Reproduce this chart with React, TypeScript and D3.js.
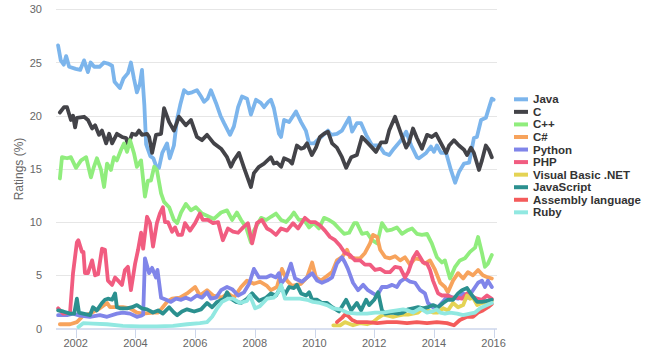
import React from "react";
import * as d3 from "d3";

type Pt = [number, number];

const javaData: Pt[] = [[2001.41,26.6],[2001.5,25.2],[2001.6,24.8],[2001.68,25.6],[2001.78,24.6],[2002.0,24.4],[2002.15,24.3],[2002.28,25.2],[2002.41,24.1],[2002.5,25.0],[2002.62,24.6],[2002.8,24.6],[2002.95,25.0],[2003.08,24.9],[2003.22,24.7],[2003.3,23.2],[2003.48,22.6],[2003.6,23.5],[2003.75,24.0],[2003.85,25.0],[2003.95,23.5],[2004.05,22.2],[2004.15,23.0],[2004.22,24.3],[2004.3,21.0],[2004.36,17.3],[2004.5,16.2],[2004.6,16.0],[2004.69,15.3],[2004.79,15.1],[2004.9,16.5],[2005.06,17.4],[2005.15,16.0],[2005.29,17.2],[2005.39,19.6],[2005.5,21.0],[2005.63,22.4],[2005.76,22.1],[2005.9,22.2],[2006.06,22.4],[2006.2,21.8],[2006.3,21.3],[2006.42,21.6],[2006.53,22.4],[2006.7,21.2],[2006.85,20.0],[2006.97,19.3],[2007.17,18.2],[2007.3,19.0],[2007.44,20.8],[2007.57,21.8],[2007.74,21.6],[2007.87,20.1],[2008.04,21.5],[2008.2,21.2],[2008.31,20.8],[2008.45,21.3],[2008.54,21.5],[2008.64,20.7],[2008.81,18.3],[2008.88,18.0],[2008.98,19.6],[2009.15,19.4],[2009.38,20.4],[2009.55,19.4],[2009.71,18.6],[2009.82,17.4],[2009.98,17.4],[2010.22,18.0],[2010.45,18.6],[2010.55,18.2],[2010.75,18.3],[2010.92,18.6],[2011.16,19.8],[2011.26,18.5],[2011.42,19.3],[2011.56,19.3],[2011.73,18.2],[2011.93,17.2],[2012.16,17.2],[2012.33,16.5],[2012.5,16.3],[2012.66,16.9],[2012.9,17.7],[2013.07,18.5],[2013.24,17.2],[2013.43,16.1],[2013.5,16.0],[2013.74,16.5],[2013.9,17.1],[2014.0,16.6],[2014.1,17.2],[2014.24,16.5],[2014.41,16.5],[2014.57,14.9],[2014.71,13.7],[2014.84,14.7],[2015.01,15.5],[2015.18,15.6],[2015.34,17.9],[2015.44,18.0],[2015.58,19.6],[2015.74,19.8],[2015.94,21.6],[2016.0,21.5]];

const cData: Pt[] = [[2001.47,20.3],[2001.61,20.8],[2001.71,20.8],[2001.84,19.6],[2001.91,20.0],[2001.98,18.9],[2002.04,19.8],[2002.28,19.9],[2002.41,19.6],[2002.55,18.8],[2002.65,19.1],[2002.78,18.2],[2002.88,18.6],[2003.02,17.4],[2003.12,18.3],[2003.22,17.4],[2003.38,18.3],[2003.55,18.0],[2003.69,17.9],[2003.75,17.2],[2003.89,18.3],[2004.02,18.2],[2004.12,18.6],[2004.22,18.2],[2004.39,18.3],[2004.46,18.0],[2004.56,16.5],[2004.69,18.2],[2004.86,18.3],[2004.96,20.7],[2005.13,19.4],[2005.29,18.6],[2005.46,19.9],[2005.69,19.1],[2005.86,19.6],[2006.06,18.0],[2006.23,17.7],[2006.40,18.2],[2006.63,17.4],[2006.87,16.9],[2007.07,16.1],[2007.20,15.2],[2007.30,15.8],[2007.47,16.5],[2007.64,15.1],[2007.87,13.3],[2007.97,14.6],[2008.14,15.2],[2008.31,15.5],[2008.54,16.1],[2008.64,15.5],[2008.74,15.6],[2008.88,15.2],[2008.98,16.0],[2009.15,15.8],[2009.25,15.5],[2009.41,17.2],[2009.55,16.9],[2009.65,17.0],[2009.75,17.4],[2009.91,16.3],[2010.05,17.0],[2010.18,18.0],[2010.32,18.3],[2010.45,18.5],[2010.59,17.4],[2010.75,17.0],[2010.92,16.1],[2011.06,15.1],[2011.23,16.1],[2011.42,16.3],[2011.59,18.0],[2011.76,17.5],[2011.93,17.0],[2012.06,16.6],[2012.23,17.5],[2012.40,17.5],[2012.50,18.6],[2012.70,19.9],[2012.90,18.3],[2013.07,17.0],[2013.17,17.5],[2013.30,18.8],[2013.43,17.9],[2013.60,16.9],[2013.77,18.2],[2013.93,18.0],[2014.07,18.3],[2014.24,17.4],[2014.41,16.5],[2014.51,17.2],[2014.67,17.7],[2014.84,17.2],[2015.01,16.8],[2015.11,16.3],[2015.24,17.0],[2015.34,16.5],[2015.51,14.9],[2015.61,15.8],[2015.74,17.2],[2015.84,16.8],[2015.94,16.1]];

const cppData: Pt[] = [[2001.47,14.1],[2001.54,16.1],[2001.71,16.0],[2001.84,16.1],[2002.01,15.1],[2002.18,15.8],[2002.35,16.1],[2002.51,14.2],[2002.61,15.2],[2002.71,16.0],[2002.85,14.9],[2002.95,13.3],[2003.05,15.5],[2003.18,14.9],[2003.28,16.1],[2003.38,15.8],[2003.52,16.8],[2003.62,17.4],[2003.72,16.6],[2003.82,17.7],[2003.95,16.5],[2004.05,15.2],[2004.19,15.8],[2004.32,12.4],[2004.42,13.9],[2004.52,13.9],[2004.63,15.2],[2004.72,14.9],[2004.86,12.7],[2004.96,11.9],[2005.13,11.4],[2005.29,10.2],[2005.40,9.9],[2005.53,10.9],[2005.69,11.7],[2005.86,11.1],[2006.03,11.4],[2006.23,10.8],[2006.47,10.5],[2006.63,10.3],[2006.87,10.9],[2007.07,11.1],[2007.24,10.2],[2007.40,10.9],[2007.54,10.2],[2007.71,9.5],[2007.87,8.1],[2007.97,9.2],[2008.21,10.4],[2008.38,10.2],[2008.54,10.5],[2008.71,10.8],[2008.88,10.2],[2009.05,10.0],[2009.21,10.5],[2009.31,10.9],[2009.48,10.2],[2009.65,10.2],[2009.82,9.5],[2009.98,9.9],[2010.15,9.4],[2010.32,10.4],[2010.49,10.2],[2010.65,9.9],[2010.82,9.4],[2010.99,8.9],[2011.16,9.0],[2011.33,9.9],[2011.42,9.9],[2011.59,8.9],[2011.76,9.0],[2011.93,8.3],[2012.10,8.0],[2012.26,9.9],[2012.43,9.2],[2012.60,9.3],[2012.76,9.5],[2012.93,8.9],[2013.10,9.2],[2013.27,9.4],[2013.43,8.9],[2013.60,8.8],[2013.77,8.9],[2013.93,8.0],[2014.10,6.7],[2014.27,6.2],[2014.37,6.4],[2014.54,4.7],[2014.71,5.8],[2014.87,6.4],[2015.04,6.6],[2015.21,7.2],[2015.38,7.6],[2015.48,8.6],[2015.61,7.1],[2015.71,5.8],[2015.81,6.1],[2015.94,6.9]];

const csharpData: Pt[] = [[2001.47,0.4],[2001.81,0.4],[2002.04,0.6],[2002.25,1.2],[2002.48,1.4],[2002.81,1.9],[2003.05,2.4],[2003.15,2.0],[2003.32,2.0],[2003.58,2.0],[2003.82,1.9],[2004.05,1.5],[2004.25,1.4],[2004.59,1.5],[2004.76,1.5],[2004.89,1.9],[2005.06,2.5],[2005.23,2.8],[2005.49,2.9],[2005.73,3.3],[2006.00,3.9],[2006.16,3.1],[2006.40,3.6],[2006.60,3.1],[2006.90,2.9],[2007.10,3.3],[2007.30,2.9],[2007.54,3.9],[2007.74,4.5],[2007.97,4.2],[2008.17,4.4],[2008.41,4.0],[2008.54,3.6],[2008.74,3.9],[2008.91,5.6],[2009.08,4.5],[2009.25,4.0],[2009.55,4.2],[2009.75,4.8],[2009.92,6.2],[2010.05,4.8],[2010.22,4.5],[2010.45,5.0],[2010.59,5.3],[2010.75,6.4],[2010.92,6.7],[2011.09,7.4],[2011.19,6.7],[2011.36,6.6],[2011.53,6.6],[2011.69,7.1],[2011.86,8.0],[2011.96,8.8],[2012.10,8.6],[2012.20,7.4],[2012.37,6.7],[2012.53,6.6],[2012.70,6.8],[2012.87,6.4],[2013.03,6.7],[2013.20,6.0],[2013.37,6.6],[2013.54,6.5],[2013.70,6.1],[2013.87,6.4],[2014.04,5.5],[2014.21,4.3],[2014.37,3.9],[2014.47,3.4],[2014.64,4.5],[2014.81,5.2],[2014.98,4.7],[2015.14,5.3],[2015.31,5.0],[2015.48,5.5],[2015.64,5.0],[2015.81,4.8],[2015.94,4.7]];

const pythonData: Pt[] = [[2001.41,1.25],[2001.71,1.25],[2001.91,1.4],[2002.14,1.2],[2002.48,1.1],[2002.81,1.25],[2003.05,1.1],[2003.38,1.4],[2003.58,1.5],[2003.82,1.4],[2004.05,1.1],[2004.19,1.2],[2004.26,1.3],[2004.32,6.6],[2004.46,5.2],[2004.56,5.7],[2004.69,4.8],[2004.74,5.5],[2004.86,2.9],[2005.03,2.7],[2005.19,2.5],[2005.36,2.8],[2005.53,2.7],[2005.69,2.9],[2005.86,2.7],[2006.06,3.1],[2006.23,2.9],[2006.40,3.4],[2006.53,2.8],[2006.70,2.9],[2006.87,3.6],[2007.07,3.9],[2007.24,3.7],[2007.44,3.1],[2007.64,3.4],[2007.81,4.2],[2007.97,5.6],[2008.14,4.8],[2008.38,4.8],[2008.54,5.0],[2008.71,4.8],[2008.81,5.2],[2008.88,4.2],[2009.05,4.8],[2009.21,6.1],[2009.35,4.7],[2009.58,4.4],[2009.75,4.8],[2009.92,5.2],[2010.09,4.5],[2010.25,4.3],[2010.42,4.5],[2010.59,4.8],[2010.75,6.1],[2010.92,6.7],[2011.02,6.2],[2011.12,5.6],[2011.29,4.3],[2011.46,3.6],[2011.63,4.1],[2011.79,3.6],[2011.96,3.3],[2012.10,3.1],[2012.26,3.9],[2012.43,3.9],[2012.60,4.1],[2012.76,3.9],[2012.87,4.4],[2013.03,4.7],[2013.20,4.4],[2013.37,4.3],[2013.54,3.6],[2013.70,3.3],[2013.80,2.4],[2013.97,2.0],[2014.13,2.0],[2014.30,2.5],[2014.47,3.1],[2014.64,2.9],[2014.81,2.8],[2014.98,3.3],[2015.14,2.9],[2015.31,3.6],[2015.48,4.3],[2015.61,4.5],[2015.71,3.9],[2015.81,4.5],[2015.94,3.9]];

const phpData: Pt[] = [[2001.41,1.9],[2001.58,1.4],[2001.81,1.5],[2001.91,5.2],[2002.04,8.1],[2002.09,8.3],[2002.21,7.2],[2002.26,7.2],[2002.31,5.2],[2002.41,5.2],[2002.55,6.4],[2002.65,5.0],[2002.75,5.1],[2002.88,7.5],[2002.98,7.4],[2003.08,4.5],[2003.22,4.1],[2003.32,4.8],[2003.42,4.5],[2003.55,4.1],[2003.65,5.5],[2003.75,5.8],[2003.85,3.6],[2003.99,6.1],[2004.09,7.4],[2004.19,9.0],[2004.26,7.5],[2004.39,10.5],[2004.49,9.9],[2004.59,7.7],[2004.72,9.9],[2004.82,10.8],[2004.92,11.4],[2004.99,10.0],[2005.09,10.0],[2005.23,9.1],[2005.33,9.5],[2005.43,8.8],[2005.56,8.8],[2005.66,9.9],[2005.83,9.2],[2006.00,9.9],[2006.16,10.8],[2006.26,10.2],[2006.43,10.2],[2006.60,9.9],[2006.77,10.0],[2006.93,8.3],[2007.10,9.4],[2007.27,9.1],[2007.44,9.0],[2007.61,9.5],[2007.77,9.9],[2007.91,8.0],[2008.07,9.9],[2008.24,10.2],[2008.41,9.4],[2008.54,9.2],[2008.71,8.8],[2008.88,9.4],[2009.08,9.2],[2009.28,9.9],[2009.45,9.4],[2009.68,10.4],[2009.85,10.0],[2010.02,10.0],[2010.18,9.7],[2010.35,9.2],[2010.52,8.6],[2010.69,8.3],[2010.85,7.8],[2011.02,7.1],[2011.19,6.9],[2011.36,6.4],[2011.53,6.4],[2011.69,6.0],[2011.86,6.0],[2012.03,5.5],[2012.20,5.6],[2012.37,5.3],[2012.53,5.3],[2012.70,5.8],[2012.87,5.7],[2013.03,4.8],[2013.14,5.3],[2013.30,6.6],[2013.43,7.2],[2013.54,6.7],[2013.64,6.2],[2013.77,6.1],[2013.87,5.5],[2013.97,4.5],[2014.14,3.3],[2014.27,3.1],[2014.44,3.1],[2014.61,2.9],[2014.77,2.9],[2014.94,2.8],[2015.11,3.3],[2015.28,3.0],[2015.45,2.8],[2015.61,2.7],[2015.78,3.1],[2015.94,2.8]];

const vbnetData: Pt[] = [[2010.63,0.3],[2010.86,0.3],[2011.02,0.6],[2011.12,0.5],[2011.29,0.3],[2011.52,0.5],[2011.76,0.4],[2011.96,0.6],[2012.13,1.0],[2012.30,1.3],[2012.46,1.2],[2012.63,1.1],[2012.80,1.2],[2012.97,1.3],[2013.13,1.3],[2013.30,1.4],[2013.47,1.5],[2013.63,1.9],[2013.80,1.7],[2013.97,1.5],[2014.14,1.5],[2014.31,1.9],[2014.47,1.7],[2014.64,2.4],[2014.81,2.0],[2014.98,2.2],[2015.11,3.1],[2015.21,2.8],[2015.31,2.9],[2015.45,2.2],[2015.61,2.4],[2015.78,2.4],[2015.94,2.6]];

const jsData: Pt[] = [[2001.41,1.7],[2001.58,1.6],[2001.81,1.4],[2001.95,1.4],[2002.04,2.8],[2002.11,1.5],[2002.25,1.4],[2002.48,1.25],[2002.58,2.0],[2002.71,1.7],[2002.88,2.4],[2002.98,2.7],[2003.08,2.8],[2003.22,2.7],[2003.32,3.3],[2003.38,2.0],[2003.48,1.9],[2003.72,1.9],[2003.89,2.0],[2004.05,2.2],[2004.22,1.9],[2004.39,1.8],[2004.59,1.5],[2004.76,1.7],[2004.92,1.4],[2005.13,2.0],[2005.29,1.5],[2005.40,1.25],[2005.56,1.6],[2005.73,1.8],[2005.97,1.6],[2006.20,1.8],[2006.40,2.4],[2006.57,2.0],[2006.74,2.5],[2006.97,2.8],[2007.07,3.4],[2007.20,2.8],[2007.37,2.5],[2007.54,2.4],[2007.74,2.8],[2007.91,3.3],[2008.14,2.6],[2008.38,2.9],[2008.54,3.3],[2008.71,3.1],[2008.88,3.9],[2009.01,3.2],[2009.15,3.9],[2009.31,3.8],[2009.41,4.1],[2009.55,3.3],[2009.72,3.1],[2009.82,3.4],[2009.92,2.7],[2010.09,2.7],[2010.25,2.4],[2010.42,2.4],[2010.59,2.0],[2010.82,1.6],[2011.06,2.7],[2011.23,1.7],[2011.42,2.4],[2011.56,1.7],[2011.73,2.7],[2011.83,2.2],[2012.00,2.7],[2012.13,3.4],[2012.26,1.7],[2012.37,1.4],[2012.60,1.5],[2012.80,1.4],[2012.97,1.5],[2013.13,1.8],[2013.30,1.9],[2013.47,2.0],[2013.64,1.9],[2013.80,2.0],[2013.97,2.2],[2014.14,2.0],[2014.31,2.4],[2014.47,2.7],[2014.64,2.7],[2014.81,3.3],[2014.94,3.6],[2015.11,3.8],[2015.28,3.1],[2015.45,2.5],[2015.61,2.5],[2015.78,2.6],[2015.94,2.7]];

const asmData: Pt[] = [[2010.75,0.6],[2010.92,1.0],[2011.02,1.3],[2011.12,1.2],[2011.26,0.8],[2011.42,0.6],[2011.76,0.6],[2012.10,0.5],[2012.43,0.6],[2012.76,0.6],[2013.10,0.5],[2013.43,0.6],[2013.77,0.5],[2014.10,0.6],[2014.44,0.5],[2014.67,0.3],[2014.87,0.8],[2015.11,1.1],[2015.31,1.1],[2015.48,1.5],[2015.64,1.7],[2015.81,2.0],[2015.94,2.3]];

const rubyData: Pt[] = [[2002.09,0.15],[2002.25,0.5],[2002.58,0.45],[2003.05,0.4],[2003.58,0.25],[2004.15,0.2],[2004.72,0.2],[2005.26,0.25],[2005.73,0.4],[2006.16,0.5],[2006.40,0.6],[2006.57,1.1],[2006.74,1.9],[2006.90,2.5],[2007.10,2.8],[2007.27,2.8],[2007.50,2.4],[2007.74,2.6],[2007.84,3.1],[2008.01,1.9],[2008.17,2.1],[2008.41,2.8],[2008.64,2.9],[2008.78,3.4],[2008.88,4.1],[2009.01,2.8],[2009.28,2.8],[2009.51,2.8],[2009.75,2.7],[2009.95,2.5],[2010.18,2.4],[2010.42,2.2],[2010.62,1.9],[2010.86,1.8],[2011.09,1.5],[2011.42,1.4],[2011.76,1.4],[2012.03,1.5],[2012.30,1.5],[2012.53,1.6],[2012.76,1.7],[2012.97,1.8],[2013.13,1.7],[2013.30,1.5],[2013.54,1.9],[2013.77,1.5],[2013.94,1.6],[2014.10,1.8],[2014.21,1.5],[2014.37,1.4],[2014.54,1.5],[2014.78,1.4],[2014.98,1.25],[2015.21,1.4],[2015.38,1.5],[2015.55,1.9],[2015.78,2.2],[2015.94,2.4]];

const seriesNames = ["Java", "C", "C++", "C#", "Python", "PHP", "Visual Basic .NET", "JavaScript", "Assembly language", "Ruby"];
const seriesData: Pt[][] = [javaData, cData, cppData, csharpData, pythonData, phpData, vbnetData, jsData, asmData, rubyData];
const seriesColors = ["#7cb5ec", "#434348", "#90ed7d", "#f7a35c", "#8085e9", "#f15c80", "#e4d354", "#2b908f", "#f45b5b", "#91e8e1"];

const xTicks = [2002, 2004, 2006, 2008, 2010, 2012, 2014, 2016];
const yTicks = [0, 5, 10, 15, 20, 25, 30];

const FONT = "'Liberation Sans', Arial, Helvetica, sans-serif";

export default function App() {
  const plotLeft = 56;
  const plotRight = 497;
  const x = d3.scaleLinear().domain([2002, 2016]).range([75.7, 493.6]);
  const y = d3.scaleLinear().domain([0, 30]).range([328.5, 9.3]);
  const line = d3
    .line<Pt>()
    .x((d) => x(d[0]))
    .y((d) => y(d[1]));

  return (
    <svg
      width={649}
      height={360}
      style={{ position: "absolute", left: 0, top: 0, background: "#fff" }}
      fontFamily={FONT}
    >
      <rect x={0} y={0} width={649} height={360} fill="#ffffff" />
      {yTicks.map((t) => (
        <g key={"y" + t}>
          {t !== 0 && (
            <line x1={plotLeft} x2={plotRight} y1={Math.round(y(t)) + 0.5} y2={Math.round(y(t)) + 0.5} stroke="#e6e6e6" strokeWidth={1} />
          )}
          <text x={42} y={y(t) + 4} textAnchor="end" fontSize={11} fill="#666666">
            {t}
          </text>
        </g>
      ))}
      <line x1={plotLeft} x2={plotRight} y1={329} y2={329} stroke="#ccd6eb" strokeWidth={1.5} />
      {xTicks.map((t) => (
        <g key={"x" + t}>
          <line x1={Math.round(x(t)) + 0.5} x2={Math.round(x(t)) + 0.5} y1={329} y2={338} stroke="#ccd6eb" strokeWidth={1} />
          <text x={x(t)} y={347} textAnchor="middle" fontSize={11} fill="#666666">
            {t}
          </text>
        </g>
      ))}
      <text
        transform={`translate(23,169) rotate(-90)`}
        textAnchor="middle"
        fontSize={12}
        fill="#666666"
      >
        Ratings (%)
      </text>
      <g>
        {seriesData.map((data, i) => (
          <path
            key={seriesNames[i]}
            d={line(data) || ""}
            fill="none"
            stroke={seriesColors[i]}
            strokeWidth={3.8}
            strokeLinejoin="round"
            strokeLinecap="round"
          />
        ))}
      </g>
      <g>
        {seriesNames.map((name, i) => {
          const cy = 99.3 + i * 12.56;
          return (
            <g key={"lg" + name}>
              <line x1={514} x2={528} y1={cy} y2={cy} stroke={seriesColors[i]} strokeWidth={4} />
              <text x={533} y={cy + 4} fontSize={11.5} fontWeight="bold" fill="#333333">
                {name}
              </text>
            </g>
          );
        })}
      </g>
    </svg>
  );
}
